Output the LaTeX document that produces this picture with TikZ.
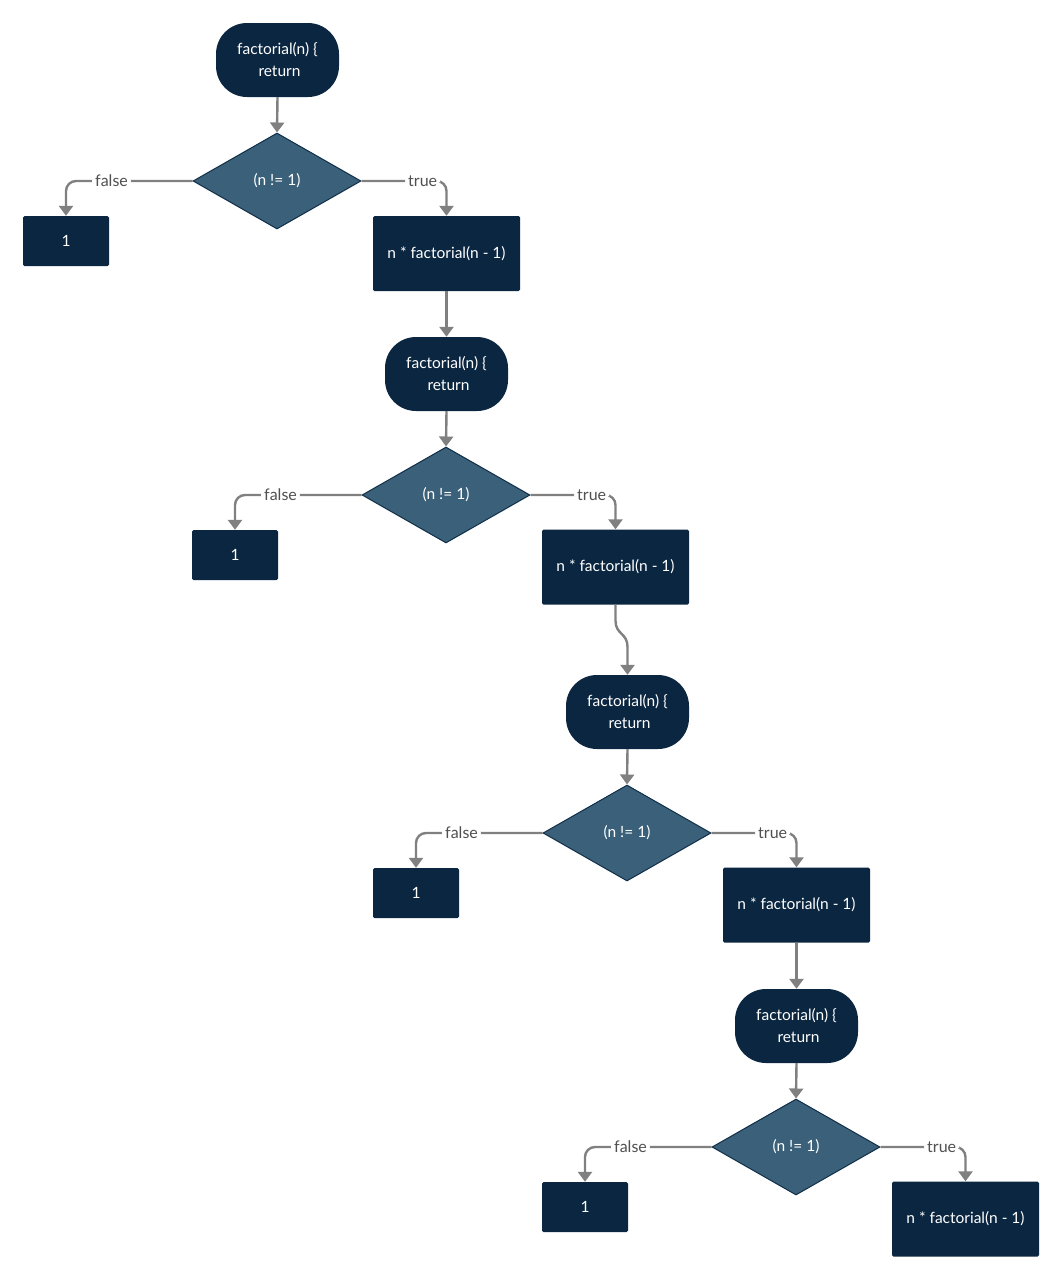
\documentclass[tikz,border=0pt]{standalone}
\usepackage{fontspec}
\setmainfont{Lato}
\usetikzlibrary{shapes.geometric,arrows.meta,calc}
\definecolor{navy}{HTML}{0B2640}
\definecolor{steel}{HTML}{3B6079}
\definecolor{steelborder}{HTML}{0F2E48}
\definecolor{conn}{HTML}{808080}
\definecolor{lbl}{HTML}{505050}
\tikzset{
  term/.style={fill=navy, rounded corners=31pt, minimum width=123pt, minimum height=74pt, text=white, align=center, font=\fontsize{15.5}{22}\selectfont, inner sep=0pt},
  decide/.style={diamond, aspect=1.75, fill=steel, draw=steelborder, line width=1pt, minimum width=168pt, minimum height=96pt, inner sep=0pt, text=white, font=\fontsize{15.5}{18}\selectfont},
  onebox/.style={fill=navy, rounded corners=1.5pt, minimum width=86pt, minimum height=50pt, text=white, font=\fontsize{15.5}{18}\selectfont, inner sep=0pt},
  recbox/.style={fill=navy, rounded corners=1.5pt, minimum width=147pt, minimum height=75pt, text=white, font=\fontsize{15.5}{18}\selectfont, inner sep=0pt},
  arr/.style={draw=conn, line width=2.4pt, -{Triangle[width=14pt,length=10pt]}, rounded corners=10pt},
  lab/.style={fill=white, text=lbl, font=\fontsize{16}{18}\selectfont, inner xsep=3pt, inner ysep=1.5pt}
}
\begin{document}
\begin{tikzpicture}[x=1pt,y=1pt]
\useasboundingbox (0,0) rectangle (1062,-1280);
\fill[white] (0,0) rectangle (1062,-1280);
% level 1
\node[term] (t1) at (277.5,-60) {factorial(n) \{\\ \ return};
\node[decide] (d1) at (277,-181) {(n != 1)};
\node[onebox] (o1) at (66,-241) {1};
\node[recbox] (r1) at (446.5,-253.5) {n * factorial(n - 1)};
% level 2
\node[term] (t2) at (446.5,-374) {factorial(n) \{\\ \ return};
\node[decide] (d2) at (446,-495) {(n != 1)};
\node[onebox] (o2) at (235,-555) {1};
\node[recbox] (r2) at (615.5,-567) {n * factorial(n - 1)};
% level 3
\node[term] (t3) at (627.5,-712) {factorial(n) \{\\ \ return};
\node[decide] (d3) at (627,-833) {(n != 1)};
\node[onebox] (o3) at (416,-893) {1};
\node[recbox] (r3) at (796.5,-905) {n * factorial(n - 1)};
% level 4
\node[term] (t4) at (796.5,-1026) {factorial(n) \{\\ \ return};
\node[decide] (d4) at (796,-1147) {(n != 1)};
\node[onebox] (o4) at (585,-1207) {1};
\node[recbox] (r4) at (965.5,-1219) {n * factorial(n - 1)};
% connectors
\draw[arr] (t1.south) -- (d1.north);
\draw[arr] (d1.west) -| node[lab,pos=0.32] {false} (o1.north);
\draw[arr] (d1.east) -| node[lab,pos=0.36] {true} (r1.north);
\draw[arr] (r1.south) -- (t2.north);
\draw[arr] (t2.south) -- (d2.north);
\draw[arr] (d2.west) -| node[lab,pos=0.32] {false} (o2.north);
\draw[arr] (d2.east) -| node[lab,pos=0.36] {true} (r2.north);
\draw[arr, sharp corners] (r2.south) -- ++(0,-16) .. controls ++(0,-14) and ($(t3.north)+(0,42)$) .. ($(t3.north)+(0,28)$) -- (t3.north);
\draw[arr] (t3.south) -- (d3.north);
\draw[arr] (d3.west) -| node[lab,pos=0.32] {false} (o3.north);
\draw[arr] (d3.east) -| node[lab,pos=0.36] {true} (r3.north);
\draw[arr] (r3.south) -- (t4.north);
\draw[arr] (t4.south) -- (d4.north);
\draw[arr] (d4.west) -| node[lab,pos=0.32] {false} (o4.north);
\draw[arr] (d4.east) -| node[lab,pos=0.36] {true} (r4.north);
\end{tikzpicture}
\end{document}
